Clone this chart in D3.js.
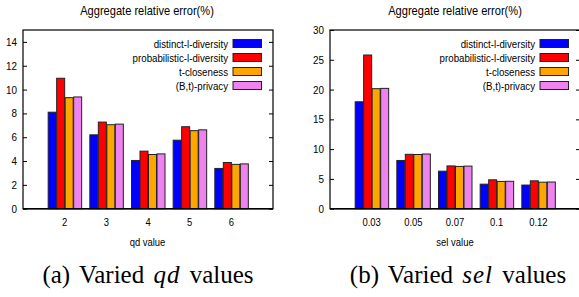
<!DOCTYPE html>
<html><head><meta charset="utf-8">
<script src="https://cdn.jsdelivr.net/npm/d3@7"></script>
<style>
html,body{margin:0;padding:0;background:#fff;}
svg{display:block;}
.sans{font-family:"Liberation Sans",Arial,sans-serif;}
.serif{font-family:"Liberation Serif","Times New Roman",serif;}
</style>
</head><body>
<script>
const series = ["distinct-l-diversity","probabilistic-l-diversity","t-closeness","(B,t)-privacy"];
const colors = ["#0000ff","#ff0000","#ffa500","#ee82ee"];

const qdCategories = ["2","3","4","5","6"];
const qdDistinct = [8.1, 6.2, 4.05, 5.75, 3.38];
const qdProbabilistic = [10.95, 7.27, 4.83, 6.88, 3.88];
const qdTCloseness = [9.32, 7.05, 4.55, 6.55, 3.72];
const qdBtPrivacy = [9.38, 7.1, 4.6, 6.62, 3.76];
const qdTicks = [0,2,4,6,8,10,12,14];

const selCategories = ["0.03","0.05","0.07","0.1","0.12"];
const selDistinct = [17.95, 8.1, 6.3, 4.12, 3.97];
const selProbabilistic = [25.8, 9.13, 7.18, 4.85, 4.68];
const selTCloseness = [20.15, 9.1, 7.1, 4.58, 4.45];
const selBtPrivacy = [20.2, 9.18, 7.15, 4.6, 4.48];
const selTicks = [0,5,10,15,20,25,30];

const W = 579, H = 297;
const SX = 0.86; // condensed look
const svg = d3.select("body").append("svg").attr("width", W).attr("height", H);

function ctext(parent, x, y, str, anchor, size){
  const gg = parent.append("g").attr("transform", `translate(${x},${y}) scale(${SX},1)`);
  return gg.append("text").attr("class","sans").attr("x",0).attr("y",0)
    .attr("text-anchor", anchor).style("font-size", (size||12) + "px").attr("fill","#000").text(str);
}

function panel(opt){
  const {x0, x1, y0, y1, cats, vals, ymax, ticks, title, xlabel, capPre, capIt, capPost} = opt;
  const g = svg.append("g");
  const slot = (x1 - x0) / (cats.length + 1);
  const x = d3.scaleBand().domain(cats).range([x0 + slot/2, x1 - slot/2]).paddingInner(0).paddingOuter(0);
  const y = d3.scaleLinear().domain([0, ymax]).range([y1, y0]);
  const inner = d3.scaleBand().domain(d3.range(series.length)).range([-17, 17]);

  // bars
  series.forEach((s, si) => {
    g.append("g").selectAll("rect").data(cats).join("rect")
      .attr("x", c => x(c) + x.bandwidth()/2 + inner(si) + 0.5)
      .attr("y", (c, i) => y(vals[si][i]))
      .attr("width", inner.bandwidth() - 0.5)
      .attr("height", (c, i) => y(0) - y(vals[si][i]))
      .attr("fill", colors[si])
      .attr("stroke", "#222")
      .attr("stroke-width", 1);
  });

  // frame
  g.append("rect").attr("x", x0).attr("y", y0).attr("width", x1 - x0).attr("height", y1 - y0)
    .attr("fill", "none").attr("stroke", "#000").attr("stroke-width", 1.2);
  g.append("line").attr("x1", x0).attr("x2", x1).attr("y1", y1).attr("y2", y1)
    .attr("stroke", "#000").attr("stroke-width", 1.6);

  // left axis ticks
  const yAxis = d3.axisLeft(y).tickValues(ticks).tickSize(-4).tickFormat("");
  const ya = g.append("g").attr("transform", `translate(${x0},0)`).call(yAxis);
  ya.select(".domain").remove();
  ya.selectAll("line").attr("stroke", "#000");
  ticks.forEach(t => ctext(g, x0 - 6, y(t) + 4, String(t), "end", 11.5));
  // mirrored right ticks
  const yR = d3.axisRight(y).tickValues(ticks).tickSize(-4).tickFormat("");
  const yr = g.append("g").attr("transform", `translate(${x1},0)`).call(yR);
  yr.select(".domain").remove();
  yr.selectAll("line").attr("stroke", "#000");

  // x axis labels
  const xAxis = d3.axisBottom(x).tickSize(0).tickFormat("");
  const xa = g.append("g").attr("transform", `translate(0,${y1})`).call(xAxis);
  xa.select(".domain").remove();
  cats.forEach(c => ctext(g, x(c) + x.bandwidth()/2, 226, c, "middle", 11));

  // titles
  ctext(g, opt.tcx, 15, title, "middle", 12.9);
  ctext(g, opt.lcx, 245.5, xlabel, "middle", 11);

  // legend
  series.forEach((s, si) => {
    const ly = 43.5 + si * 14;
    ctext(g, x1 - 45, ly + 4, s, "end", 11.3);
    g.append("rect").attr("x", x1 - 40).attr("y", ly - 4).attr("width", 28.5).attr("height", 8)
      .attr("fill", colors[si]).attr("stroke", "#222").attr("stroke-width", 1);
  });

  // caption
  const cap = g.append("text").attr("class","serif").attr("x", opt.ccx).attr("y", 283)
    .attr("text-anchor","middle").style("font-size","25px").style("word-spacing","3px");
  cap.append("tspan").text(capPre);
  cap.append("tspan").style("font-style","italic").style("letter-spacing","1px").text(capIt);
  cap.append("tspan").text(capPost);
}

panel({x0: 23, x1: 273, y0: 30, y1: 208.7,
  cats: qdCategories, vals: [qdDistinct, qdProbabilistic, qdTCloseness, qdBtPrivacy],
  ymax: 15, ticks: qdTicks, title: "Aggregate relative error(%)", xlabel: "qd value",
  capPre: "(a) Varied ", capIt: "qd", capPost: " values", ccx: 148, tcx: 147, lcx: 147.5});

panel({x0: 330, x1: 580, y0: 30, y1: 208.7,
  cats: selCategories, vals: [selDistinct, selProbabilistic, selTCloseness, selBtPrivacy],
  ymax: 30, ticks: selTicks, title: "Aggregate relative error(%)", xlabel: "sel value",
  capPre: "(b) Varied ", capIt: "sel", capPost: " values", ccx: 458, tcx: 455, lcx: 455});
</script>
</body></html>
